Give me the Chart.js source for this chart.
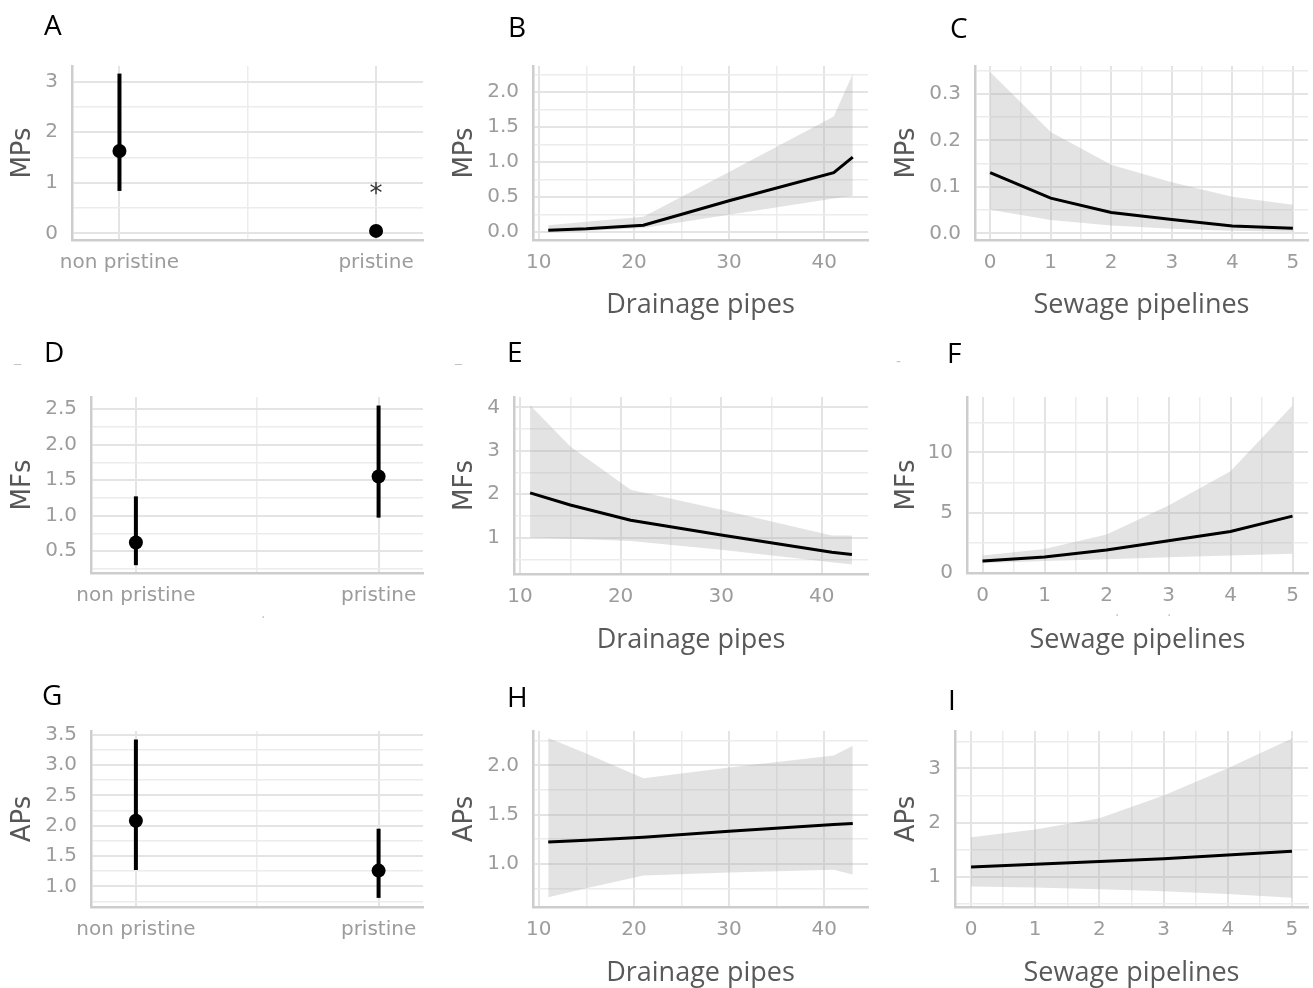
<!DOCTYPE html>
<html>
<head>
<meta charset="utf-8">
<script src="https://cdn.jsdelivr.net/npm/chart.js@4.4.1/dist/chart.umd.min.js"></script>
<style>
  body { margin: 0; background: #fff; }
  #page { position: relative; width: 1313px; height: 988px; overflow: hidden; }
  canvas { position: absolute; }
  .tag { position: absolute; font-family: "Open Sans"; font-size: 28px; line-height: 28px; color: #000; }
  .speck { position: absolute; font-family: "DejaVu Sans"; font-size: 14px; line-height: 14px; color: #c4c4c4; }
</style>
</head>
<body>
<div id="page"></div>
<script>
// groups (panels A, D, G)
const groupNames = ["non pristine", "pristine"];
const mpsGroupMean = [1.63, 0.05];
const mpsGroupLow = [0.84, 0.05];
const mpsGroupHigh = [3.16, 0.05];
const mpsSignif = ["", "*"];
const mpsSignifLevel = 0.88;
const mfsGroupMean = [0.62, 1.55];
const mfsGroupLow = [0.30, 0.97];
const mfsGroupHigh = [1.27, 2.55];
const apsGroupMean = [2.08, 1.26];
const apsGroupLow = [1.27, 0.81];
const apsGroupHigh = [3.42, 1.95];

// drainage pipes (panels B, E, H)
const drainagePipes = [11, 15, 21, 30, 41, 43];
const mpsDrainFit = [0.03, 0.05, 0.10, 0.45, 0.85, 1.07];
const mpsDrainLow = [0.00, 0.02, 0.06, 0.25, 0.48, 0.52];
const mpsDrainHigh = [0.10, 0.15, 0.22, 0.86, 1.65, 2.26];
const mfsDrainFit = [2.03, 1.75, 1.40, 1.06, 0.66, 0.61];
const mfsDrainLow = [1.00, 0.97, 0.92, 0.72, 0.43, 0.38];
const mfsDrainHigh = [4.05, 3.10, 2.10, 1.64, 1.05, 1.05];
const apsDrainFit = [1.22, 1.24, 1.27, 1.33, 1.40, 1.41];
const apsDrainLow = [0.66, 0.75, 0.88, 0.91, 0.94, 0.89];
const apsDrainHigh = [2.28, 2.12, 1.87, 1.98, 2.10, 2.20];

// sewage pipelines (panels C, F, I)
const sewagePipelines = [0, 1, 2, 3, 4, 5];
const mpsSewFit = [0.131, 0.076, 0.045, 0.030, 0.016, 0.011];
const mpsSewLow = [0.051, 0.029, 0.017, 0.010, 0.006, 0.004];
const mpsSewHigh = [0.347, 0.218, 0.148, 0.110, 0.079, 0.062];
const mfsSewFit = [1.00, 1.33, 1.90, 2.67, 3.44, 4.72];
const mfsSewLow = [0.80, 1.00, 1.15, 1.30, 1.45, 1.60];
const mfsSewHigh = [1.46, 2.00, 3.20, 5.60, 8.45, 13.9];
const apsSewFit = [1.18, 1.23, 1.28, 1.33, 1.40, 1.47];
const apsSewLow = [0.82, 0.80, 0.77, 0.73, 0.68, 0.61];
const apsSewHigh = [1.73, 1.87, 2.08, 2.50, 3.00, 3.55];

// tick labels
const groupTickPos = [1, 2];
const drainageTicks = ["10", "20", "30", "40"];
const sewageTicks = ["0", "1", "2", "3", "4", "5"];
const mpsGroupTicks = ["0", "1", "2", "3"];
const mpsDrainTicks = ["0.0", "0.5", "1.0", "1.5", "2.0"];
const mpsSewTicks = ["0.0", "0.1", "0.2", "0.3"];
const mfsGroupTicks = ["0.5", "1.0", "1.5", "2.0", "2.5"];
const mfsDrainTicks = ["1", "2", "3", "4"];
const mfsSewTicks = ["0", "5", "10"];
const apsGroupTicks = ["1.0", "1.5", "2.0", "2.5", "3.0", "3.5"];
const apsDrainTicks = ["1.0", "1.5", "2.0"];
const apsSewTicks = ["1", "2", "3"];

const page = document.getElementById("page");
const tickFont = { family: "DejaVu Sans", size: 20 };
const tickGray = "#9c9c9c";
const ribbonFill = "rgba(170,170,170,0.33)";

function pts(xs, ys) {
  return xs.map((x, i) => ({ x: x, y: ys[i] }));
}

// major ticks get a label, minor ticks (half steps) only a grid line
function tickSet(values, labels, min, max) {
  const step = values[1] - values[0];
  const minor = values.map(v => v - step / 2).concat([values[values.length - 1] + step / 2]);
  const all = values.concat(minor).filter(v => v >= min && v <= max).sort((a, b) => a - b);
  const idx = v => values.findIndex(m => Math.abs(m - v) < 1e-9);
  return {
    values: all,
    isMajor: v => idx(v) >= 0,
    text: v => (idx(v) >= 0 ? labels[idx(v)] : ""),
  };
}

function axis(ts, min, max, pad, extra) {
  return Object.assign({
    type: "linear",
    min: min,
    max: max,
    afterBuildTicks: s => { s.ticks = ts.values.map(v => ({ value: v })); },
    ticks: { autoSkip: false, maxRotation: 0, padding: pad, color: tickGray, font: tickFont, callback: v => ts.text(v) },
    grid: {
      drawTicks: false,
      color: c => (c.tick && ts.isMajor(c.tick.value) ? "#e4e4e4" : "#ececec"),
      lineWidth: c => (c.tick && ts.isMajor(c.tick.value) ? 2 : 1.5),
    },
    border: { display: true, color: "#cdcdcd", width: 2.5 },
  }, extra);
}

function curveSets(xs, fit, low, high) {
  return [
    { data: pts(xs, fit), borderColor: "#000", borderWidth: 3, pointRadius: 0, fill: false },
    { data: pts(xs, high), borderColor: "rgba(0,0,0,0)", borderWidth: 0, pointRadius: 0, fill: "+1", backgroundColor: ribbonFill },
    { data: pts(xs, low), borderColor: "rgba(0,0,0,0)", borderWidth: 0, pointRadius: 0, fill: false },
  ];
}

function groupSets(mean, low, high) {
  const sets = [{ data: pts(groupTickPos, mean), showLine: false, pointRadius: 7, pointBackgroundColor: "#000", pointBorderColor: "#000", pointBorderWidth: 0 }];
  groupTickPos.forEach((x, i) => {
    sets.push({ data: [{ x: x, y: low[i] }, { x: x, y: high[i] }], borderColor: "#000", borderWidth: 4, pointRadius: 0, fill: false });
  });
  return sets;
}

const starPlugin = {
  id: "star",
  afterDatasetsDraw(chart) {
    const ctx = chart.ctx;
    ctx.save();
    ctx.font = '26px "DejaVu Sans"';
    ctx.fillStyle = "#333";
    ctx.textAlign = "center";
    mpsSignif.forEach((s, i) => {
      if (!s) return;
      const m = ctx.measureText(s);
      const px = chart.scales.x.getPixelForValue(groupTickPos[i]);
      const py = chart.scales.y.getPixelForValue(mpsSignifLevel);
      ctx.fillText(s, px, py + (m.actualBoundingBoxAscent - m.actualBoundingBoxDescent) / 2);
    });
    ctx.restore();
  },
};

function makePanel(p) {
  const canvas = document.createElement("canvas");
  const cw = p.cr - p.cl;
  const ch = p.cb - p.ct;
  canvas.width = cw;
  canvas.height = ch;
  canvas.style.left = p.cl + "px";
  canvas.style.top = p.ct + "px";
  canvas.style.width = cw + "px";
  canvas.style.height = ch + "px";
  page.appendChild(canvas);

  const xts = tickSet(p.xValues, p.xLabels, p.xMin, p.xMax);
  const yts = tickSet(p.yLabels.map(Number), p.yLabels, p.yMin, p.yMax);

  new Chart(canvas, {
    type: "line",
    data: { datasets: p.datasets },
    options: {
      responsive: false,
      animation: false,
      events: [],
      layout: { padding: { left: 0, top: p.t - p.ct, right: p.cr - p.r, bottom: 0 } },
      plugins: { legend: { display: false }, tooltip: { enabled: false } },
      scales: {
        x: axis(xts, p.xMin, p.xMax, 11, {
          afterFit: s => { s.height = p.cb - p.b; },
          title: {
            display: !!p.xTitle,
            text: p.xTitle || "",
            color: "#595959",
            font: { family: "Open Sans", size: 27 },
            padding: { top: 0, bottom: 0 },
          },
        }),
        y: axis(yts, p.yMin, p.yMax, 14, {
          afterFit: s => { s.width = p.l - p.cl; },
          title: {
            display: true,
            text: p.yTitle,
            color: "#575757",
            font: { family: "DejaVu Sans", size: 26 },
            padding: { top: p.yTitleX - p.cl - 15.6, bottom: 0 },
          },
        }),
      },
    },
    plugins: p.plugins || [],
  });
}

function addTag(text, x, y, cls) {
  const d = document.createElement("div");
  d.className = cls || "tag";
  d.textContent = text;
  d.style.left = x + "px";
  d.style.top = y + "px";
  page.appendChild(d);
}

const groupRange = [0.815, 2.183];
const drainRange = [9.4, 44.6];
const sewRange = [-0.25, 5.25];

const panels = [
  { tag: "A", tx: 44, ty: 10, l: 72, t: 52, r: 425, b: 240, cl: 0, ct: 40, cr: 430, cb: 322, yTitleX: 23,
    xValues: groupTickPos, xLabels: groupNames, xMin: groupRange[0], xMax: groupRange[1],
    yLabels: mpsGroupTicks, yMin: -0.13, yMax: 3.31, yTitle: "MPs",
    datasets: groupSets(mpsGroupMean, mpsGroupLow, mpsGroupHigh), plugins: [starPlugin] },
  { tag: "B", tx: 508, ty: 12, l: 533, t: 52, r: 868, b: 240, cl: 440, ct: 40, cr: 873, cb: 322, yTitleX: 465,
    xValues: drainageTicks.map(Number), xLabels: drainageTicks, xMin: drainRange[0], xMax: drainRange[1], xTitle: "Drainage pipes",
    yLabels: mpsDrainTicks, yMin: -0.11, yMax: 2.37, yTitle: "MPs",
    datasets: curveSets(drainagePipes, mpsDrainFit, mpsDrainLow, mpsDrainHigh) },
  { tag: "C", tx: 950, ty: 13, l: 975, t: 52, r: 1308, b: 240, cl: 882, ct: 40, cr: 1313, cb: 322, yTitleX: 907,
    xValues: sewageTicks.map(Number), xLabels: sewageTicks, xMin: sewRange[0], xMax: sewRange[1], xTitle: "Sewage pipelines",
    yLabels: mpsSewTicks, yMin: -0.014, yMax: 0.36, yTitle: "MPs",
    datasets: curveSets(sewagePipelines, mpsSewFit, mpsSewLow, mpsSewHigh) },
  { tag: "D", tx: 44, ty: 337, l: 91, t: 383, r: 425, b: 573, cl: 0, ct: 371, cr: 430, cb: 657, yTitleX: 23,
    xValues: groupTickPos, xLabels: groupNames, xMin: groupRange[0], xMax: groupRange[1],
    yLabels: mfsGroupTicks, yMin: 0.19, yMax: 2.67, yTitle: "MFs",
    datasets: groupSets(mfsGroupMean, mfsGroupLow, mfsGroupHigh) },
  { tag: "E", tx: 507, ty: 337, l: 514, t: 383, r: 868, b: 574, cl: 440, ct: 371, cr: 873, cb: 657, yTitleX: 465,
    xValues: drainageTicks.map(Number), xLabels: drainageTicks, xMin: drainRange[0], xMax: drainRange[1], xTitle: "Drainage pipes",
    yLabels: mfsDrainTicks, yMin: 0.16, yMax: 4.24, yTitle: "MFs",
    datasets: curveSets(drainagePipes, mfsDrainFit, mfsDrainLow, mfsDrainHigh) },
  { tag: "F", tx: 947, ty: 338, l: 967, t: 383, r: 1308, b: 573, cl: 882, ct: 371, cr: 1313, cb: 657, yTitleX: 907,
    xValues: sewageTicks.map(Number), xLabels: sewageTicks, xMin: sewRange[0], xMax: sewRange[1], xTitle: "Sewage pipelines",
    yLabels: mfsSewTicks, yMin: 0, yMax: 14.6, yTitle: "MFs",
    datasets: curveSets(sewagePipelines, mfsSewFit, mfsSewLow, mfsSewHigh) },
  { tag: "G", tx: 42, ty: 680, l: 91, t: 718, r: 425, b: 907, cl: 0, ct: 705, cr: 430, cb: 990, yTitleX: 23,
    xValues: groupTickPos, xLabels: groupNames, xMin: groupRange[0], xMax: groupRange[1],
    yLabels: apsGroupTicks, yMin: 0.66, yMax: 3.56, yTitle: "APs",
    datasets: groupSets(apsGroupMean, apsGroupLow, apsGroupHigh) },
  { tag: "H", tx: 507, ty: 682, l: 533, t: 717, r: 868, b: 907, cl: 440, ct: 705, cr: 873, cb: 990, yTitleX: 465,
    xValues: drainageTicks.map(Number), xLabels: drainageTicks, xMin: drainRange[0], xMax: drainRange[1], xTitle: "Drainage pipes",
    yLabels: apsDrainTicks, yMin: 0.56, yMax: 2.35, yTitle: "APs",
    datasets: curveSets(drainagePipes, apsDrainFit, apsDrainLow, apsDrainHigh) },
  { tag: "I", tx: 948, ty: 685, l: 955, t: 717, r: 1308, b: 907, cl: 882, ct: 705, cr: 1313, cb: 990, yTitleX: 907,
    xValues: sewageTicks.map(Number), xLabels: sewageTicks, xMin: sewRange[0], xMax: sewRange[1], xTitle: "Sewage pipelines",
    yLabels: apsSewTicks, yMin: 0.44, yMax: 3.69, yTitle: "APs",
    datasets: curveSets(sewagePipelines, apsSewFit, apsSewLow, apsSewHigh) },
];

panels.forEach(p => {
  makePanel(p);
  addTag(p.tag, p.tx, p.ty);
});

// small stray marks of the original figure
addTag("_", 14, 350, "speck");
addTag("_", 455, 350, "speck");
addTag("-", 896, 354, "speck");
addTag(".", 261, 606, "speck");
addTag(".", 1115, 604, "speck");
addTag(".", 1167, 604, "speck");
</script>
</body>
</html>
